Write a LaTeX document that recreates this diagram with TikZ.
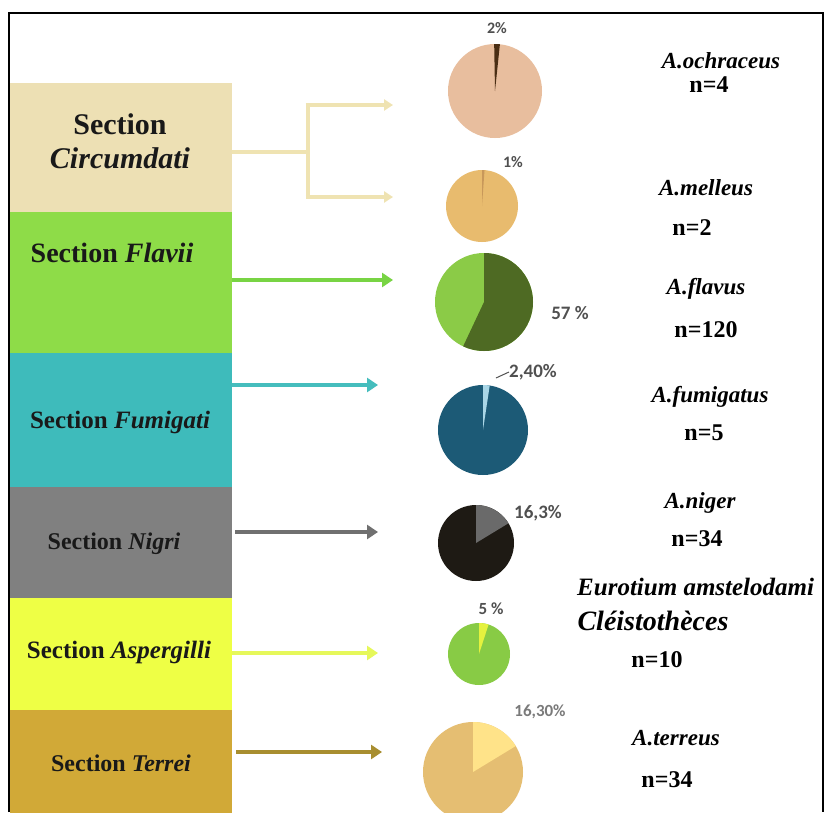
\documentclass[tikz,border=0pt]{standalone}
\usepackage{fontspec}
\setmainfont{Liberation Serif}
\newfontfamily\pctfont{Carlito}
\usetikzlibrary{arrows.meta}
\newcommand\myfs[1]{\fontsize{#1}{#1}\selectfont}
\definecolor{cCirc}{HTML}{EDE0B4}
\definecolor{cFlav}{HTML}{8EDC48}
\definecolor{cFumi}{HTML}{3EBBBB}
\definecolor{cNigr}{HTML}{808080}
\definecolor{cAspe}{HTML}{EEFF45}
\definecolor{cTerr}{HTML}{D1A937}
\definecolor{aCirc}{HTML}{EFE3B2}
\definecolor{aFlav}{HTML}{78D444}
\definecolor{aFumi}{HTML}{45BDBD}
\definecolor{aNigr}{HTML}{707070}
\definecolor{aAspe}{HTML}{E6F85A}
\definecolor{aTerr}{HTML}{A88E30}
\definecolor{pctgray}{HTML}{505050}
\definecolor{pctlight}{HTML}{7A7A7A}
\definecolor{pOchM}{HTML}{E8BE9E}\definecolor{pOchS}{HTML}{4A2E14}
\definecolor{pMelM}{HTML}{E8BB6E}\definecolor{pMelS}{HTML}{C8985A}
\definecolor{pFlaM}{HTML}{8BCB47}\definecolor{pFlaS}{HTML}{4E6A23}
\definecolor{pFumM}{HTML}{1C5A76}\definecolor{pFumS}{HTML}{A9D6E6}
\definecolor{pNigM}{HTML}{1E1A14}\definecolor{pNigS}{HTML}{6A6A6A}
\definecolor{pAspM}{HTML}{88CB45}\definecolor{pAspS}{HTML}{E5F23E}
\definecolor{pTerM}{HTML}{E5BE72}\definecolor{pTerS}{HTML}{FFE389}
\newcommand\mypie[8]{%
  \node[circle, fill=#5, minimum size={2*#4pt}, inner sep=0pt] (#1) at (#2,#3) {};
  \fill[#6] (#1.center) -- ++(#7:#4) arc[start angle=#7, end angle=#8, radius=#4] -- cycle;
}
\begin{document}
\begin{tikzpicture}[x=1pt,y=-1pt,
  secbox/.style={rectangle, inner sep=0pt, minimum width=222pt, anchor=north west, draw=none},
  sectxt/.style={anchor=base, align=center, inner sep=0pt, text=black!90},
  conn/.style={line width=3.5pt, -{Triangle[length=11pt,width=14pt]}},
  pct/.style={anchor=center, inner sep=0pt, text=pctgray, font=\pctfont\bfseries\myfs{19}},
  spec/.style={anchor=base, inner sep=0pt, font=\bfseries\itshape\myfs{23}},
  cnt/.style={anchor=base, inner sep=0pt, font=\bfseries\myfs{24}},
]
\useasboundingbox (0,0) rectangle (828,812);
\fill[white] (0,0) rectangle (828,812);

% section boxes
\node[secbox, fill=cCirc, minimum height=129pt] (circ) at (10,83) {};
\node[secbox, fill=cFlav, minimum height=141pt] (flav) at (10,212) {};
\node[secbox, fill=cFumi, minimum height=135pt] (fumi) at (10,353) {};
\node[secbox, fill=cNigr, minimum height=111pt] (nigr) at (10,487) {};
\node[secbox, fill=cAspe, minimum height=112pt] (aspe) at (10,598) {};
\node[secbox, fill=cTerr, minimum height=104pt] (terr) at (10,710) {};

% section texts
\node[sectxt, anchor=center, font=\bfseries\fontsize{30}{34}\selectfont] (circT) at (120,141) {Section\\\textit{Circumdati}};
\node[sectxt, font=\bfseries\myfs{28}] (flavT) at (112,262) {Section \textit{Flavii}};
\node[sectxt, font=\bfseries\myfs{25}] (fumiT) at (120,428) {Section \textit{Fumigati}};
\node[sectxt, font=\bfseries\myfs{24}] (nigrT) at (114,549) {Section \textit{Nigri}};
\node[sectxt, font=\bfseries\myfs{25}] (aspeT) at (119,658) {Section \textit{Aspergilli}};
\node[sectxt, font=\bfseries\myfs{24}] (terrT) at (121,771) {Section \textit{Terrei}};

% pies
\mypie{och}{495}{91}{47}{pOchM}{pOchS}{-91}{-84}
\mypie{mel}{482}{206}{36}{pMelM}{pMelS}{-90}{-86}
\mypie{fla}{484}{302}{49}{pFlaM}{pFlaS}{-90}{115.2}
\mypie{fum}{483}{430}{45}{pFumM}{pFumS}{-90}{-81.4}
\mypie{nig}{476}{543}{38}{pNigM}{pNigS}{-90}{-31.3}
\mypie{asp}{479}{654}{31}{pAspM}{pAspS}{-90}{-72}
\mypie{ter}{473}{772}{50}{pTerM}{pTerS}{-90}{-31.3}

% percent labels
\node[pct, font=\pctfont\bfseries\myfs{16}] (ochP) at (497,28) {2\%};
\node[pct, font=\pctfont\bfseries\myfs{16}] (melP) at (513,162) {1\%};
\node[pct] (flaP) at (570,313) {57 \%};
\node[pct] (fumP) at (533,372) {2,40\%};
\node[pct] (nigP) at (538,513) {16,3\%};
\node[pct, font=\pctfont\bfseries\myfs{17}] (aspP) at (491,609) {5 \%};
\node[pct, text=pctlight, font=\pctfont\bfseries\myfs{17}] (terP) at (540,712) {16,30\%};
\draw[pctgray, line width=1pt] (fumP.west) -- ++(-13,6);

% connectors
\coordinate (circJ) at (308,152);
\coordinate (ochA) at (393,105);
\coordinate (melA) at (393,197);
\coordinate (flaA) at (393,280);
\coordinate (fumA) at (378,385);
\coordinate (nigA) at (378,532);
\coordinate (aspA) at (378,653);
\coordinate (terA) at (382,752);
\draw[aCirc, line width=4.5pt] (circ.east |- circJ) -- (circJ);
\draw[aCirc, line width=4.5pt] (circJ |- ochA) -- (circJ |- melA);
\draw[aCirc, line width=4.5pt, -{Triangle[length=9pt,width=11pt]}] ([xshift=-2.25pt]circJ |- ochA) -- (ochA);
\draw[aCirc, line width=4.5pt, -{Triangle[length=9pt,width=11pt]}] ([xshift=-2.25pt]circJ |- melA) -- (melA);
\draw[conn, aFlav] (flav.east |- flaA) -- (flaA);
\draw[conn, aFumi] (fumi.east |- fumA) -- (fumA);
\draw[conn, aNigr] ([xshift=3pt]nigr.east |- nigA) -- (nigA);
\draw[conn, aAspe] (aspe.east |- aspA) -- (aspA);
\draw[conn, aTerr] ([xshift=4pt]terr.east |- terA) -- (terA);

% species labels
\node[spec] (ochS) at (721,68) {A.ochraceus};
\node[cnt] (ochN) at (709,92) {n=4};
\node[spec] (melS) at (706,195) {A.melleus};
\node[cnt] (melN) at (692,235) {n=2};
\node[spec] (flaS) at (706,294) {A.flavus};
\node[cnt] (flaN) at (706,337) {n=120};
\node[spec] (fumS) at (710,402) {A.fumigatus};
\node[cnt] (fumN) at (704,440) {n=5};
\node[spec] (nigS) at (700,508) {A.niger};
\node[cnt] (nigN) at (697,546) {n=34};
\node[spec, anchor=base west, font=\bfseries\itshape\myfs{25}] (aspS) at (577,595) {Eurotium amstelodami};
\node[spec, font=\bfseries\itshape\myfs{28}] (aspC) at (653,630) {Cléistothèces};
\node[cnt] (aspN) at (657,667) {n=10};
\node[spec] (terS) at (676,745) {A.terreus};
\node[cnt] (terN) at (667,787) {n=34};

% frame
\draw[black, line width=2.5pt] (9,812) -- (9,13) -- (823,13) -- (823,812);
\end{tikzpicture}
\end{document}
